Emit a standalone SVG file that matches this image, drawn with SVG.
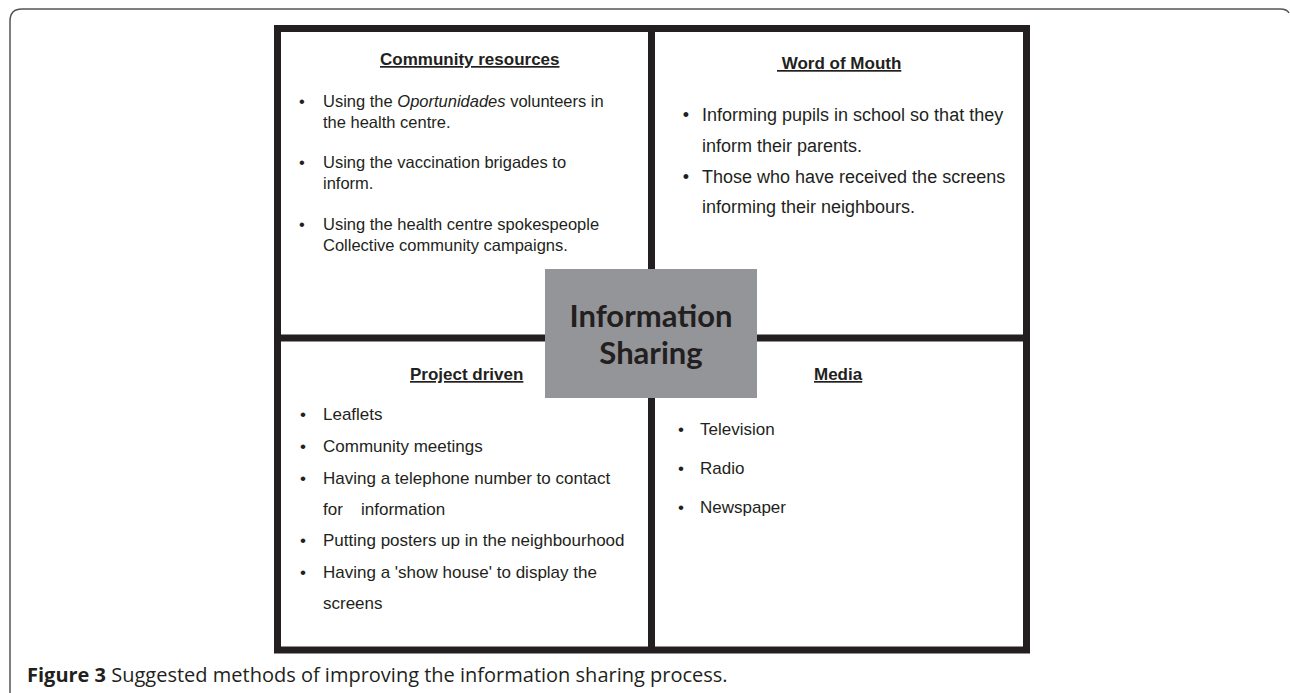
<svg xmlns="http://www.w3.org/2000/svg" width="1290" height="693" viewBox="0 0 1290 693">
<style>
.txt{font-family:"Liberation Sans",Arial,sans-serif;fill:#231f20}
.hd{font-weight:bold;font-size:17px;text-decoration:underline}
.b{text-anchor:middle}
.grid{fill:none;stroke:#231f20;stroke-width:7}
.cap{font-family:"Open Sans","Liberation Sans",sans-serif;fill:#231f20;font-size:20px}
</style>
<rect width="1290" height="693" fill="#ffffff"/>
<path d="M10,693 V21 Q10,9 22,9 H1280 Q1287,9 1289,13" fill="none" stroke="#555555" stroke-width="1.5"/>
<g id="connectors">
<rect class="grid" x="277.5" y="28.5" width="749" height="621.5"/>
<line class="grid" x1="651.5" y1="28.5" x2="651.5" y2="650"/>
<line class="grid" x1="277.5" y1="338" x2="1026.5" y2="338"/>
</g>
<g id="community-resources" class="txt" font-size="16.5">
<text class="hd" x="380" y="65">Community resources</text>
<text class="b" x="302" y="107">•</text>
<text x="323" y="107">Using the <tspan font-style="italic">Oportunidades</tspan> volunteers in</text>
<text x="323" y="128">the health centre.</text>
<text class="b" x="302" y="168">•</text>
<text x="323" y="168">Using the vaccination brigades to</text>
<text x="323" y="189">inform.</text>
<text class="b" x="302" y="230">•</text>
<text x="323" y="230">Using the health centre spokespeople</text>
<text x="323" y="251">Collective community campaigns.</text>
</g>
<g id="word-of-mouth" class="txt" font-size="18">
<text class="hd" x="777" y="69" xml:space="preserve">&#160;Word of Mouth</text>
<text class="b" x="686" y="121">•</text>
<text x="702" y="121">Informing pupils in school so that they</text>
<text x="702" y="152">inform their parents.</text>
<text class="b" x="686" y="183">•</text>
<text x="702" y="183">Those who have received the screens</text>
<text x="702" y="213">informing their neighbours.</text>
</g>
<g id="project-driven" class="txt" font-size="17">
<text class="hd" x="410" y="380">Project driven</text>
<text class="b" x="303" y="420">•</text>
<text x="323" y="420">Leaflets</text>
<text class="b" x="303" y="452">•</text>
<text x="323" y="452">Community meetings</text>
<text class="b" x="303" y="484">•</text>
<text x="323" y="484">Having a telephone number to contact</text>
<text x="323" y="515">for</text>
<text x="361" y="515">information</text>
<text class="b" x="303" y="546">•</text>
<text x="323" y="546">Putting posters up in the neighbourhood</text>
<text class="b" x="303" y="578">•</text>
<text x="323" y="578">Having a 'show house' to display the</text>
<text x="323" y="609">screens</text>
</g>
<g id="media" class="txt" font-size="17">
<text class="hd" x="814" y="380">Media</text>
<text class="b" x="681" y="435">•</text>
<text x="700" y="435">Television</text>
<text class="b" x="681" y="474">•</text>
<text x="700" y="474">Radio</text>
<text class="b" x="681" y="513">•</text>
<text x="700" y="513">Newspaper</text>
</g>
<g id="information-sharing">
<rect x="545" y="269" width="212" height="129" fill="#939598"/>
<text x="651" y="327" text-anchor="middle" font-family="Lato,'Open Sans',sans-serif" font-weight="bold" font-size="31" fill="#231f20">Information</text>
<text x="651" y="364" text-anchor="middle" font-family="Lato,'Open Sans',sans-serif" font-weight="bold" font-size="31" fill="#231f20">Sharing</text>
</g>
<text class="cap" x="27" y="682"><tspan font-weight="bold">Figure 3</tspan> Suggested methods of improving the information sharing process.</text>
</svg>
